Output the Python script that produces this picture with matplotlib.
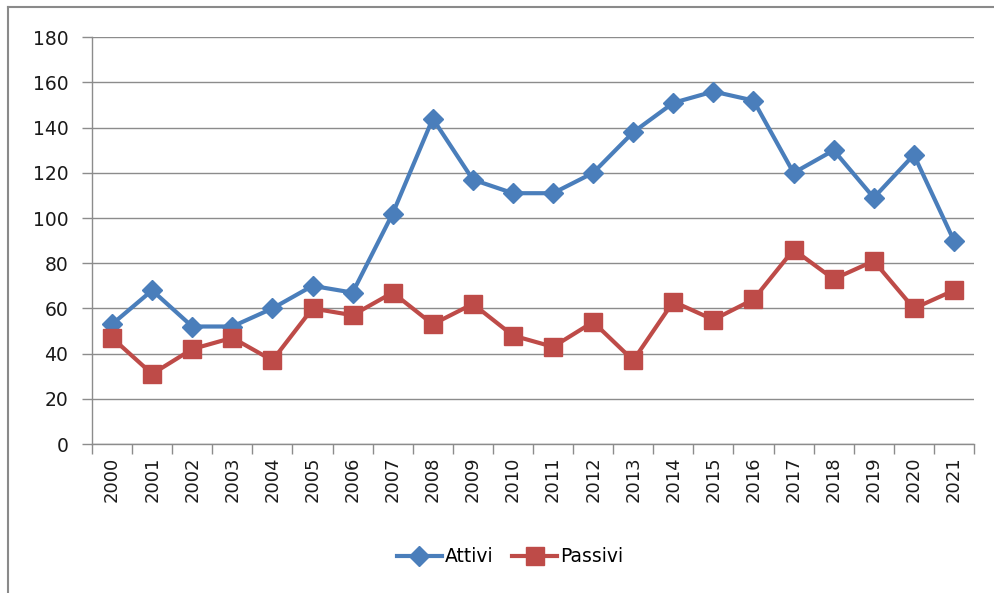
import matplotlib
matplotlib.use("Agg")
import matplotlib.pyplot as plt
from matplotlib.lines import Line2D
import numpy as np

years = [str(y) for y in range(2000, 2022)]
attivi = [53, 68, 52, 52, 60, 70, 67, 102, 144, 117, 111, 111, 120, 138, 151, 156, 152, 120, 130, 109, 128, 90]
passivi = [47, 31, 42, 47, 37, 60, 57, 67, 53, 62, 48, 43, 54, 37, 63, 55, 64, 86, 73, 81, 60, 68]
yticks = [0, 20, 40, 60, 80, 100, 120, 140, 160, 180]

blue = "#4A7EBB"
red = "#BE4B48"
grid = "#8C8C8C"

plt.rcParams['font.family'] = ['DejaVu Sans']

fig = plt.figure(figsize=(9.95, 5.93), dpi=100)
ax = fig.add_axes([92/995, 1-444/593, (974-92)/995, (444-37.3)/593])

x = np.arange(len(years))
ax.plot(x, attivi, color=blue, lw=3, marker='D', markersize=10.5, label='Attivi', zorder=3)
ax.plot(x, passivi, color=red, lw=3, marker='s', markersize=13.5, label='Passivi', zorder=3)

ax.set_xlim(-0.5, len(years) - 0.5)
ax.set_ylim(0, 180)
ax.set_yticks(yticks)
ax.set_yticklabels([str(v) for v in yticks], fontsize=13.5, color='#1a1a1a')
ax.set_xticks(x)
ax.set_xticklabels(years, rotation=90, fontsize=13, color='#1a1a1a')
ax.set_xticks(np.arange(-0.5, len(years)), minor=True)
ax.tick_params(axis='x', which='major', length=0, pad=9)
ax.tick_params(axis='x', which='minor', length=7, color=grid, width=1)
ax.tick_params(axis='y', length=7, color=grid, width=1, pad=10)

ax.grid(axis='y', color=grid, lw=1)
ax.set_axisbelow(True)
for s in ['top', 'right']:
    ax.spines[s].set_visible(False)
for s in ['left', 'bottom']:
    ax.spines[s].set_color(grid)
    ax.spines[s].set_linewidth(1)

leg = fig.legend(loc='center', bbox_to_anchor=(510/995, 1-557/593), ncol=2, frameon=False,
                 fontsize=13.5, handlelength=2.4, columnspacing=1.0, handletextpad=0.15)

# outer chart frame
fig.add_artist(Line2D([8/995, 1], [1-7/593, 1-7/593], color='#8a8a8a', lw=1.5))
fig.add_artist(Line2D([8/995, 8/995], [0, 1-7/593], color='#8a8a8a', lw=1.5))

fig.savefig("out.png", dpi=100, facecolor='white')
